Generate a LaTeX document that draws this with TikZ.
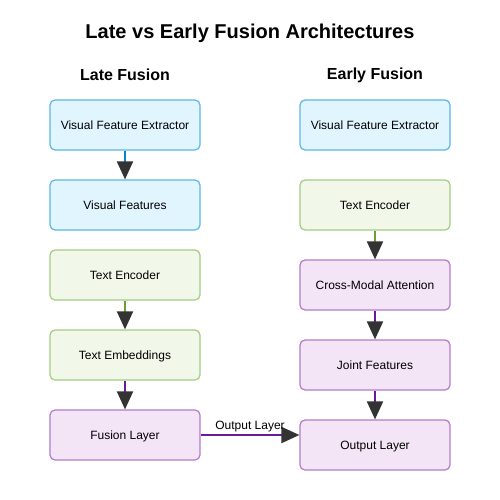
\documentclass[tikz,border=0pt]{standalone}
\usepackage{fontspec}
\setmainfont{Liberation Sans}
\usetikzlibrary{arrows.meta}
\definecolor{bfill}{HTML}{E1F5FE}
\definecolor{bdraw}{HTML}{5DB6E6}
\definecolor{bline}{HTML}{0288D1}
\definecolor{gfill}{HTML}{F1F8E9}
\definecolor{gdraw}{HTML}{A5CC82}
\definecolor{gline}{HTML}{689F38}
\definecolor{pfill}{HTML}{F3E5F5}
\definecolor{pdraw}{HTML}{B27CCB}
\definecolor{pline}{HTML}{6A1B9A}
\definecolor{tip}{HTML}{333333}
\tikzset{
  box/.style={rectangle, rounded corners=5pt, minimum width=150pt, minimum height=50pt, line width=1.2pt, font=\fontsize{12}{14}\selectfont, inner sep=0pt, text height=8.2pt, text depth=-0.4pt},
  bluebox/.style={box, draw=bdraw, fill=bfill},
  greenbox/.style={box, draw=gdraw, fill=gfill},
  purplebox/.style={box, draw=pdraw, fill=pfill},
  conn/.style={line width=2pt, -{Triangle[length=18pt,width=16pt,color=tip]}},
  heading/.style={font=\bfseries\fontsize{16}{19}\selectfont},
}
\begin{document}
\begin{tikzpicture}[x=1pt,y=-1pt]
\useasboundingbox (0,0) rectangle (500,500);
\node[font=\bfseries\fontsize{20}{24}\selectfont] (title) at (250,33) {Late vs Early Fusion Architectures};
\node[heading] (lh) at (125,75) {Late Fusion};
\node[heading] (rh) at (375,75) {Early Fusion};
% left
\node[bluebox] (l1) at (125,125) {Visual Feature Extractor};
\node[bluebox] (l2) at (125,205) {Visual Features};
\node[greenbox] (l3) at (125,275) {Text Encoder};
\node[greenbox] (l4) at (125,355) {Text Embeddings};
\node[purplebox] (l5) at (125,435) {Fusion Layer};
% right
\node[bluebox] (r1) at (375,125) {Visual Feature Extractor};
\node[greenbox] (r2) at (375,205) {Text Encoder};
\node[purplebox] (r3) at (375,285) {Cross-Modal Attention};
\node[purplebox] (r4) at (375,365) {Joint Features};
\node[purplebox] (r5) at (375,445) {Output Layer};
% connectors
\draw[conn, bline] (l1) -- (l2);
\draw[conn, gline] (l3) -- (l4);
\draw[conn, pline] (l4) -- (l5);
\draw[conn, gline] (r2) -- (r3);
\draw[conn, pline] (r3) -- (r4);
\draw[conn, pline] (r4) -- (r5);
\draw[conn, pline] (l5.east) -- (l5.east -| r5.west) node[midway, above=-1pt, text=black, font=\fontsize{12}{14}\selectfont] {Output Layer};
\end{tikzpicture}
\end{document}
